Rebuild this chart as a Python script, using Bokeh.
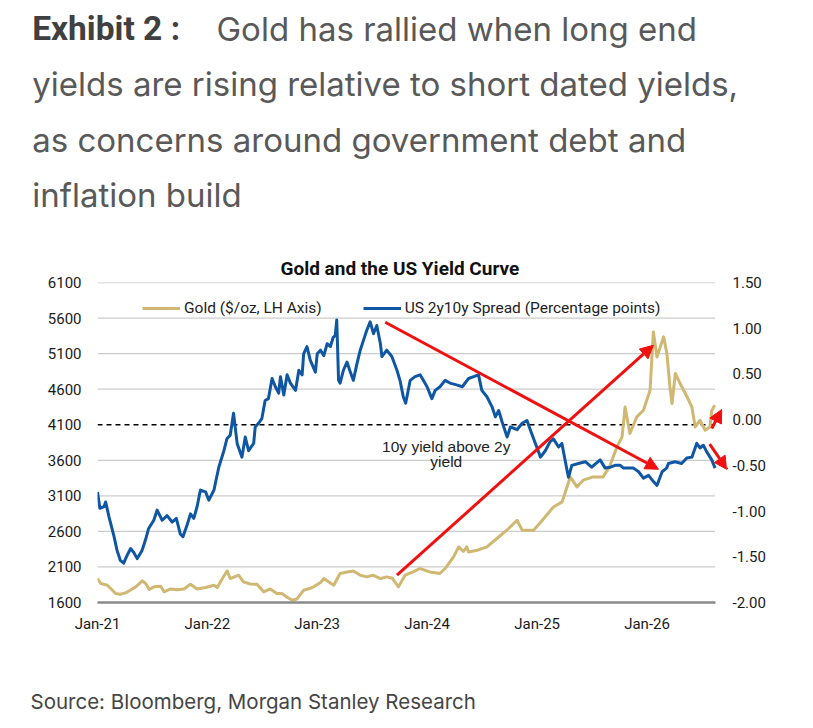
import pandas as pd
from bokeh.plotting import figure
from bokeh.models import (Range1d, LinearAxis, FixedTicker, NumeralTickFormatter,
                          DatetimeTickFormatter, Legend, LegendItem, Label, Arrow,
                          NormalHead, Title)
from bokeh.embed import file_html
from bokeh.resources import INLINE

# ---------------- data ----------------
gold_dates = [
    "2021-01-01", "2021-01-12", "2021-02-03", "2021-03-02", "2021-03-18", "2021-04-04",
    "2021-04-20", "2021-05-08", "2021-05-30", "2021-06-10", "2021-06-22", "2021-07-08",
    "2021-07-30", "2021-08-10", "2021-09-01", "2021-09-23", "2021-10-15", "2021-11-06",
    "2021-11-28", "2021-12-26", "2022-01-23", "2022-02-03", "2022-02-20", "2022-03-08",
    "2022-03-18", "2022-04-15", "2022-05-01", "2022-05-23", "2022-06-15", "2022-07-07",
    "2022-07-29", "2022-08-20", "2022-09-06", "2022-09-23", "2022-10-10", "2022-10-26",
    "2022-11-17", "2022-12-09", "2022-12-20", "2023-01-12", "2023-01-23", "2023-02-25",
    "2023-03-18", "2023-04-10", "2023-05-01", "2023-05-24", "2023-06-15", "2023-07-05",
    "2023-07-30", "2023-08-20", "2023-09-08", "2023-09-28", "2023-10-20", "2023-11-16",
    "2023-12-08", "2024-01-10", "2024-02-13", "2024-03-01", "2024-03-29", "2024-04-15",
    "2024-05-01", "2024-05-12", "2024-05-18", "2024-06-15", "2024-07-18", "2024-08-20",
    "2024-09-28", "2024-10-26", "2024-11-12", "2024-12-20", "2025-01-23", "2025-02-24",
    "2025-03-25", "2025-04-10", "2025-04-21", "2025-05-13", "2025-06-03", "2025-07-06",
    "2025-08-08", "2025-08-29", "2025-09-23", "2025-10-10", "2025-10-20", "2025-11-05",
    "2025-11-28", "2025-12-20", "2026-01-11", "2026-01-22", "2026-02-03", "2026-02-25",
    "2026-03-08", "2026-03-18", "2026-03-25", "2026-04-05", "2026-04-21", "2026-05-14",
    "2026-05-30", "2026-06-10", "2026-06-26", "2026-07-13", "2026-07-29", "2026-08-04",
    "2026-08-14",
]
gold_values = [
    1937, 1867, 1843, 1727, 1717, 1735,
    1773, 1820, 1904, 1867, 1783, 1820,
    1830, 1750, 1790, 1780, 1790, 1857,
    1790, 1810, 1843, 1810, 1937, 2044,
    1937, 1984, 1890, 1860, 1857, 1750,
    1790, 1727, 1727, 1675, 1632, 1650,
    1773, 1800, 1820, 1880, 1937, 1843,
    2008, 2030, 2044, 1984, 1960, 1984,
    1937, 1960, 1940, 1820, 1984, 2030,
    2078, 2030, 2008, 2078, 2241, 2382,
    2320, 2382, 2311, 2335, 2382, 2500,
    2640, 2757, 2617, 2617, 2781, 2944,
    3015, 3225, 3366, 3225, 3320, 3366,
    3366, 3507, 3788, 3929, 4350, 3976,
    4210, 4304, 4585, 5405, 5053, 5335,
    5100, 4631, 4398, 4820, 4679, 4490,
    4350, 4069, 4163, 4023, 4069, 4304,
    4374,
]

spread_dates = [
    "2021-01-01", "2021-01-09", "2021-01-23", "2021-01-28", "2021-02-08", "2021-02-25",
    "2021-03-07", "2021-03-18", "2021-03-29", "2021-04-10", "2021-04-21", "2021-05-01",
    "2021-05-13", "2021-05-29", "2021-06-09", "2021-06-20", "2021-07-07", "2021-07-18",
    "2021-08-04", "2021-08-20", "2021-09-06", "2021-09-20", "2021-10-03", "2021-10-12",
    "2021-10-26", "2021-11-06", "2021-11-17", "2021-11-28", "2021-12-09", "2021-12-26",
    "2022-01-06", "2022-01-23", "2022-02-08", "2022-02-25", "2022-03-07", "2022-03-18",
    "2022-03-29", "2022-04-10", "2022-04-26", "2022-05-07", "2022-05-18", "2022-06-04",
    "2022-06-09", "2022-06-20", "2022-07-01", "2022-07-12", "2022-07-23", "2022-08-04",
    "2022-08-15", "2022-08-26", "2022-09-01", "2022-09-12", "2022-09-23", "2022-10-04",
    "2022-10-21", "2022-11-01", "2022-11-12", "2022-11-17", "2022-11-28", "2022-12-09",
    "2022-12-26", "2023-01-01", "2023-01-12", "2023-01-23", "2023-02-03", "2023-02-14",
    "2023-02-23", "2023-03-02", "2023-03-07", "2023-03-13", "2023-03-18", "2023-03-29",
    "2023-04-10", "2023-04-21", "2023-05-01", "2023-05-13", "2023-05-24", "2023-06-04",
    "2023-06-15", "2023-06-26", "2023-07-07", "2023-07-18", "2023-07-30", "2023-08-04",
    "2023-08-20", "2023-09-06", "2023-09-23", "2023-10-03", "2023-10-14", "2023-10-22",
    "2023-11-06", "2023-11-22", "2023-12-09", "2024-01-01", "2024-01-17", "2024-01-28",
    "2024-02-13", "2024-03-01", "2024-03-17", "2024-04-08", "2024-04-27", "2024-05-18",
    "2024-06-04", "2024-06-20", "2024-07-01", "2024-07-18", "2024-08-04", "2024-08-15",
    "2024-08-26", "2024-09-06", "2024-09-23", "2024-10-04", "2024-10-26", "2024-11-12",
    "2024-11-28", "2024-12-09", "2024-12-26", "2025-01-12", "2025-01-28", "2025-02-13",
    "2025-02-24", "2025-03-13", "2025-03-24", "2025-04-10", "2025-04-15", "2025-04-26",
    "2025-05-18", "2025-06-10", "2025-07-01", "2025-07-29", "2025-08-15", "2025-09-01",
    "2025-09-17", "2025-10-04", "2025-10-15", "2025-11-17", "2025-12-04", "2025-12-20",
    "2026-01-06", "2026-01-23", "2026-02-03", "2026-02-20", "2026-03-07", "2026-03-13",
    "2026-04-04", "2026-04-26", "2026-05-13", "2026-05-30", "2026-06-15", "2026-06-26",
    "2026-07-07", "2026-07-18", "2026-08-04", "2026-08-15",
]
spread_values = [
    -0.79, -0.97, -0.95, -0.90, -1.06, -1.28,
    -1.43, -1.54, -1.57, -1.48, -1.41, -1.45,
    -1.52, -1.43, -1.32, -1.19, -1.10, -0.99,
    -1.10, -1.05, -1.12, -1.08, -1.25, -1.28,
    -1.15, -1.03, -1.08, -0.95, -0.77, -0.79,
    -0.88, -0.77, -0.52, -0.34, -0.21, -0.17,
    0.07, -0.26, -0.41, -0.19, -0.34, -0.26,
    -0.08, -0.04, 0.01, 0.21, 0.23, 0.45,
    0.36, 0.29, 0.47, 0.27, 0.49, 0.40,
    0.32, 0.54, 0.49, 0.72, 0.80, 0.65,
    0.52, 0.72, 0.76, 0.70, 0.83, 0.80,
    0.90, 0.92, 1.09, 0.43, 0.40, 0.54,
    0.63, 0.52, 0.43, 0.61, 0.76, 0.87,
    0.98, 1.07, 0.94, 1.03, 0.83, 0.69,
    0.76, 0.69, 0.54, 0.43, 0.25, 0.18,
    0.43, 0.47, 0.49, 0.36, 0.23, 0.32,
    0.36, 0.43, 0.40, 0.38, 0.36, 0.45,
    0.47, 0.49, 0.32, 0.25, 0.14, 0.03,
    0.10, -0.02, -0.19, -0.08, -0.11, -0.04,
    -0.01, -0.11, -0.26, -0.41, -0.34, -0.24,
    -0.21, -0.30, -0.26, -0.55, -0.63, -0.50,
    -0.48, -0.46, -0.52, -0.44, -0.53, -0.52,
    -0.50, -0.50, -0.53, -0.53, -0.57, -0.64,
    -0.61, -0.68, -0.72, -0.57, -0.53, -0.48,
    -0.46, -0.48, -0.42, -0.41, -0.26, -0.31,
    -0.28, -0.35, -0.44, -0.53,
]

left_ticks = [1600, 2100, 2600, 3100, 3600, 4100, 4600, 5100, 5600, 6100]
right_ticks = [-2.0, -1.5, -1.0, -0.5, 0.0, 0.5, 1.0, 1.5]
x_tick_dates = ["2021-01-01", "2022-01-01", "2023-01-01", "2024-01-01",
                "2025-01-01", "2026-01-01"]
x_start_date, data_end_date, view_end_date = "2021-01-01", "2026-08-15", "2026-09-22"
zero_line_left = 4100

# red arrows (data coords on the gold axis)
arrow_x_start = ["2023-08-15", "2023-09-23", "2026-08-04", "2026-07-28"]
arrow_y_start = [5541, 1984, 4047, 3826]
arrow_x_end = ["2026-02-08", "2026-01-22", "2026-09-06", "2026-09-24"]
arrow_y_end = [3474, 5218, 4314, 3470]


def ms(d):
    return pd.Timestamp(d).value / 1e6


GOLD = "#D0B872"
BLUE = "#0F57A3"
RED = "#F01010"
W = 805
HEAD_FONT = "Inter"
BASE_FIX = 0.36  # observed: label baseline lands ~0.36*size too low


def text_fig(height):
    f = figure(width=W, height=height, x_range=Range1d(0, W), y_range=Range1d(0, height),
               x_axis_type=None, y_axis_type=None, output_backend="svg",
               toolbar_location=None, min_border=0)
    f.outline_line_color = None
    f.xgrid.visible = False
    f.ygrid.visible = False
    return f


def add_text(f, h, px, py, text, size, color, font=HEAD_FONT, style="normal", align="left"):
    py = py - BASE_FIX * size
    f.add_layout(Label(x=px, y=h - py, x_units="data", y_units="data",
                       text=text, text_font=font, text_font_size=f"{size}px",
                       text_font_style=style, text_color=color, text_align=align,
                       text_baseline="alphabetic"))


# ---------------- heading ----------------
HEAD_H = 250
head = text_fig(HEAD_H)
add_text(head, HEAD_H, 31.7, 40, "Exhibit 2 :", 33.5, "#404040", font="Roboto", style="bold")
add_text(head, HEAD_H, 216, 40, "Gold has rallied when long end", 33, "#595959")
add_text(head, HEAD_H, 31.7, 95.5, "yields are rising relative to short dated yields,", 33, "#595959")
add_text(head, HEAD_H, 31.7, 151, "as concerns around government debt and", 33, "#595959")
add_text(head, HEAD_H, 31.7, 206.5, "inflation build", 33, "#595959")

# ---------------- main chart ----------------
MAIN_TOP = 250
FRAME_L, FRAME_T = 97, 282
p = figure(width=W, height=660 - MAIN_TOP, x_axis_type="datetime",
           x_range=Range1d(ms(x_start_date), ms(view_end_date)),
           y_range=Range1d(1600, 6100),
           output_backend="svg", toolbar_location=None,
           min_border_left=FRAME_L, min_border_right=W - FRAME_L - 629,
           min_border_top=FRAME_T - MAIN_TOP, min_border_bottom=58)
p.title = Title(text="Gold and the US Yield Curve", align="left", offset=280 - FRAME_L,
                standoff=5, text_font="Roboto", text_font_style="bold",
                text_font_size="19px", text_color="#111111")
p.outline_line_color = None
p.background_fill_color = "white"
p.border_fill_color = "white"
p.extra_y_ranges = {"spread": Range1d(-2.0, 1.5)}
p.xgrid.visible = False
p.ygrid.visible = False

x0, x1 = ms(x_start_date), ms(data_end_date)
grid_levels = [t for t in left_ticks if t not in (1600, zero_line_left)]
p.segment(x0=[x0] * len(grid_levels), x1=[x1] * len(grid_levels), y0=grid_levels,
          y1=grid_levels, line_color="#cccccc", line_width=1.3)
p.segment(x0=[x0], x1=[x1], y0=[zero_line_left], y1=[zero_line_left],
          line_color="black", line_dash="5 4", line_width=1.5)

TICK_FONT = "Roboto"
ya = p.yaxis[0]
ya.ticker = FixedTicker(ticks=left_ticks)
ya.axis_line_color = None
ya.major_tick_line_color = None
ya.minor_tick_line_color = None
ya.major_tick_out = 0
ya.major_label_standoff = 16
ya.major_label_text_font = TICK_FONT
ya.major_label_text_font_size = "15px"
ya.major_label_text_color = "#1a1a1a"

ra = LinearAxis(y_range_name="spread", ticker=FixedTicker(ticks=right_ticks),
                formatter=NumeralTickFormatter(format="0.00"))
ra.axis_line_color = None
ra.major_tick_line_color = None
ra.minor_tick_line_color = None
ra.major_tick_out = 0
ra.major_label_standoff = 6
ra.major_label_text_font = TICK_FONT
ra.major_label_text_font_size = "15px"
ra.major_label_text_color = "#1a1a1a"
p.add_layout(ra, "right")

xa = p.xaxis[0]
xa.ticker = FixedTicker(ticks=[ms(d) for d in x_tick_dates])
xa.formatter = DatetimeTickFormatter(years="%b-%y", months="%b-%y", days="%b-%y")
xa.bounds = (x0, x1)
xa.axis_line_color = "#8a8a8a"
xa.axis_line_width = 2.5
xa.major_tick_line_color = None
xa.minor_tick_line_color = None
xa.major_tick_out = 0
xa.major_label_standoff = 12
xa.major_label_text_font = TICK_FONT
xa.major_label_text_font_size = "15px"
xa.major_label_text_color = "#1a1a1a"

gx = [ms(d) for d in gold_dates]
sxs = [ms(d) for d in spread_dates]
r_gold = p.line(gx, gold_values, line_color=GOLD, line_width=3, line_join="round")
r_spread = p.line(sxs, spread_values, y_range_name="spread", line_color=BLUE,
                  line_width=3, line_join="round")

for xs0, ys0, xe0, ye0 in zip(arrow_x_start, arrow_y_start, arrow_x_end, arrow_y_end):
    p.add_layout(Arrow(end=NormalHead(size=13, fill_color=RED, line_color=RED),
                       x_start=ms(xs0), y_start=ys0, x_end=ms(xe0), y_end=ye0,
                       line_color=RED, line_width=3))

legend = Legend(items=[LegendItem(label="Gold ($/oz, LH Axis)", renderers=[r_gold]),
                       LegendItem(label="US 2y10y Spread (Percentage points)", renderers=[r_spread])],
                orientation="horizontal", location=(45, 284), glyph_width=38,
                glyph_height=20, label_height=20, label_standoff=4, spacing=41,
                padding=0, margin=0, border_line_color=None, background_fill_alpha=0,
                label_text_font="Roboto", label_text_font_size="15.5px",
                label_text_color="#222222")
p.add_layout(legend, "center")

# in-frame annotation (screen units relative to frame: left=96.7, bottom=602.3 on page)
for txt, py in (("10y yield above 2y", 451.7), ("yield", 467.3)):
    p.add_layout(Label(x=445.5 - 96.7, y=602.3 - (py - BASE_FIX * 15.5),
                       x_units="screen", y_units="screen",
                       text=txt, text_font="Liberation Sans", text_font_size="15.5px",
                       text_color="#222222", text_align="center",
                       text_baseline="alphabetic"))

# ---------------- source ----------------
SRC_H = 60
src = text_fig(SRC_H)
add_text(src, SRC_H, 30, 708 - 660, "Source: Bloomberg, Morgan Stanley Research",
         20.5, "#454545")

open("out.html", "w").write(file_html([head, p, src], INLINE))
